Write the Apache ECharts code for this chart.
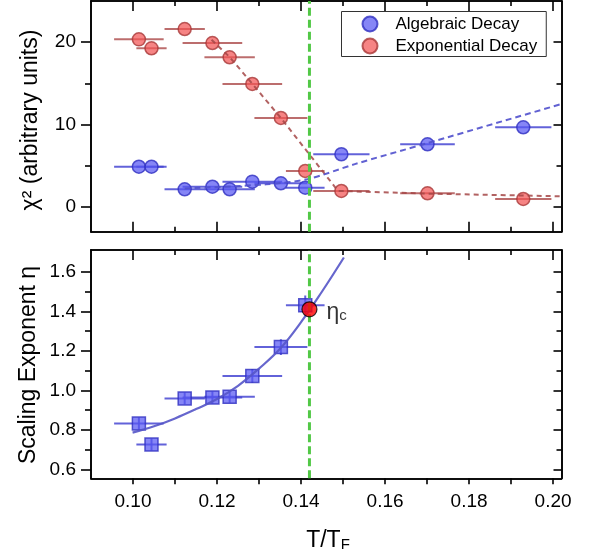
<!DOCTYPE html>
<html>
<head>
<meta charset="utf-8">
<script src="https://cdn.jsdelivr.net/npm/echarts@6/dist/echarts.min.js"></script>
<style>
  html, body { margin: 0; padding: 0; background: #fff; }
  #chart { width: 594px; height: 556px; }
</style>
</head>
<body>
<div id="chart"></div>
<script>
// Reduced temperature T/T_F of each measurement and its half-width uncertainty
const temperature    = [0.1014, 0.1044, 0.1123, 0.1189, 0.1230, 0.1284, 0.1352, 0.1410, 0.1496, 0.1701, 0.1929];
const temperatureErr = [0.0059, 0.0036, 0.0048, 0.0071, 0.0060, 0.0071, 0.0063, 0.0046, 0.0067, 0.0065, 0.0067];

// Goodness of fit (chi^2) for the two decay models
const chi2Algebraic   = [4.89, 4.89, 2.15, 2.46, 2.15, 3.07, 2.88, 2.34, 6.40, 7.61, 9.67];
const chi2Exponential = [20.35, 19.26, 21.6, 19.9, 18.17, 14.93, 10.8, 4.37, 1.94, 1.66, 0.97];

// Guide lines through the chi^2 points
const algebraicGuideT    = [0.1123, 0.1317, 0.1417, 0.1528, 0.1701, 0.2020];
const algebraicGuideChi2 = [2.25, 2.75, 3.4, 5.2, 7.75, 12.5];
const exponentialGuideT    = [0.1187, 0.1230, 0.1284, 0.1352, 0.1488, 0.1701, 0.2020];
const exponentialGuideChi2 = [20.3, 18.2, 14.95, 10.8, 1.95, 1.62, 1.3];

// Scaling exponent eta (algebraic regime only)
const etaValues = [0.832, 0.726, 0.959, 0.964, 0.967, 1.073, 1.219, 1.430];
const etaErr    = [0.03, 0.03, 0.03, 0.03, 0.03, 0.035, 0.04, 0.05];

// Smooth trend of eta versus temperature
const etaTrendT      = [0.0999, 0.105, 0.110, 0.115, 0.120, 0.125, 0.130, 0.135, 0.140, 0.145, 0.1502];
const etaTrendValues = [0.786, 0.818, 0.858, 0.905, 0.956, 1.023, 1.110, 1.210, 1.345, 1.500, 1.672];

// Crossover temperature and the exponent there
const criticalT = 0.142;
const criticalEta = 1.41;

// Axis ranges and tick positions
const tRange = [0.09, 0.202];
const tMajor = [0.10, 0.12, 0.14, 0.16, 0.18, 0.20];
const tMinor = [0.11, 0.13, 0.15, 0.17, 0.19];
const chiRange = [-3, 25];
const chiMajor = [0, 10, 20];
const chiMinor = [5, 15];
const etaRange = [0.555, 1.71];
const etaMajor = [0.6, 0.8, 1.0, 1.2, 1.4, 1.6];
const etaMinor = [0.7, 0.9, 1.1, 1.3, 1.5];

const FONT = "'Liberation Sans', Arial, Helvetica, sans-serif";
const BLUE_FILL = 'rgba(88, 88, 242, 0.9)';
const BLUE_EDGE = '#3030c0';
const BLUE_BAR = 'rgba(70, 70, 210, 0.85)';
const RED_FILL = 'rgba(242, 84, 84, 0.9)';
const RED_EDGE = '#a83838';
const RED_BAR = 'rgba(176, 84, 84, 0.85)';
const GREEN = '#52c846';

function makeAxis(gridIndex, position, range, ticks, length, inside, labelFmt, margin) {
  return {
    type: 'value',
    gridIndex: gridIndex,
    position: position,
    min: range[0],
    max: range[1],
    axisLine: { show: true, onZero: false, lineStyle: { color: '#000', width: 1.6 } },
    axisTick: { show: true, inside: inside, length: length, customValues: ticks,
                lineStyle: { color: '#000', width: 1.6 } },
    axisLabel: labelFmt
      ? { show: true, customValues: ticks, formatter: labelFmt, fontSize: 19,
          fontFamily: FONT, color: '#000', margin: margin }
      : { show: false },
    splitLine: { show: false },
    minorTick: { show: false },
    axisPointer: { show: false }
  };
}

const fmt2 = v => Number(v).toFixed(2);
const fmt1 = v => Number(v).toFixed(1);
const fmt0 = v => String(Math.round(v));

const xAxes = [
  // upper panel
  makeAxis(0, 'bottom', tRange, tMajor, 10, true),
  makeAxis(0, 'bottom', tRange, tMinor, 5, true),
  makeAxis(0, 'top', tRange, tMajor, 10, true),
  makeAxis(0, 'top', tRange, tMinor, 5, true),
  // lower panel
  makeAxis(1, 'bottom', tRange, tMajor, 6, false, fmt2, 14),
  makeAxis(1, 'bottom', tRange, tMinor, 6, false),
  makeAxis(1, 'top', tRange, tMajor, 10, true),
  makeAxis(1, 'top', tRange, tMinor, 5, true)
];
const yAxes = [
  makeAxis(0, 'left', chiRange, chiMajor, 10, false, fmt0, 15),
  makeAxis(0, 'left', chiRange, chiMinor, 6, false),
  makeAxis(0, 'right', chiRange, chiMajor, 8, true),
  makeAxis(0, 'right', chiRange, chiMinor, 5, true),
  makeAxis(1, 'left', etaRange, etaMajor, 10, false, fmt1, 15),
  makeAxis(1, 'left', etaRange, etaMinor, 6, false),
  makeAxis(1, 'right', etaRange, etaMajor, 8, true),
  makeAxis(1, 'right', etaRange, etaMinor, 5, true)
];

// Horizontal (and optional vertical) error bars
function errorBars(xIdx, yIdx, values, xErr, yErr, color) {
  return {
    type: 'custom',
    xAxisIndex: xIdx,
    yAxisIndex: yIdx,
    silent: true,
    z: 2,
    clip: true,
    data: values.map((v, i) => [temperature[i], v, xErr[i], yErr ? yErr[i] : 0]),
    encode: { x: 0, y: 1 },
    renderItem: function (params, api) {
      const x = api.value(0), y = api.value(1), dx = api.value(2), dy = api.value(3);
      const a = api.coord([x - dx, y]);
      const b = api.coord([x + dx, y]);
      const children = [{
        type: 'line',
        shape: { x1: a[0], y1: a[1], x2: b[0], y2: b[1] },
        style: { stroke: color, lineWidth: 2 }
      }];
      if (dy > 0) {
        const c = api.coord([x, y - dy]);
        const d = api.coord([x, y + dy]);
        children.push({
          type: 'line',
          shape: { x1: c[0], y1: c[1], x2: d[0], y2: d[1] },
          style: { stroke: color, lineWidth: 2 }
        });
      }
      return { type: 'group', children: children };
    }
  };
}

function zip(xs, ys) { return xs.map((x, i) => [x, ys[i]]); }

const series = [
  errorBars(0, 0, chi2Exponential, temperatureErr, null, RED_BAR),
  errorBars(0, 0, chi2Algebraic, temperatureErr, null, BLUE_BAR),
  {
    name: 'Algebraic Decay', type: 'scatter', xAxisIndex: 0, yAxisIndex: 0, z: 4,
    symbol: 'circle', symbolSize: 13,
    itemStyle: { color: BLUE_FILL, borderColor: BLUE_EDGE, borderWidth: 1.5 },
    data: zip(temperature, chi2Algebraic)
  },
  {
    name: 'Exponential Decay', type: 'scatter', xAxisIndex: 0, yAxisIndex: 0, z: 4,
    symbol: 'circle', symbolSize: 13,
    itemStyle: { color: RED_FILL, borderColor: RED_EDGE, borderWidth: 1.5 },
    data: zip(temperature, chi2Exponential)
  },
  {
    type: 'line', xAxisIndex: 0, yAxisIndex: 0, z: 5, silent: true,
    symbol: 'none', smooth: false,
    lineStyle: { color: 'rgba(165, 70, 70, 0.85)', width: 2, type: [5, 4] },
    data: zip(exponentialGuideT, exponentialGuideChi2)
  },
  {
    type: 'line', xAxisIndex: 0, yAxisIndex: 0, z: 5, silent: true,
    symbol: 'none', smooth: 0.3,
    lineStyle: { color: 'rgba(80, 80, 205, 0.9)', width: 2, type: [6, 4] },
    data: zip(algebraicGuideT, algebraicGuideChi2)
  },
  {
    type: 'line', xAxisIndex: 0, yAxisIndex: 0, z: 6, silent: true,
    symbol: 'none',
    lineStyle: { color: GREEN, width: 3, type: [8, 4] },
    data: [[criticalT, chiRange[0]], [criticalT, chiRange[1]]]
  },

  // lower panel
  errorBars(4, 4, etaValues, temperatureErr, etaErr, BLUE_BAR),
  {
    type: 'scatter', xAxisIndex: 4, yAxisIndex: 4, z: 4,
    symbol: 'rect', symbolSize: 13,
    itemStyle: { color: BLUE_FILL, borderColor: BLUE_EDGE, borderWidth: 1.5 },
    data: zip(temperature.slice(0, etaValues.length), etaValues)
  },
  {
    type: 'line', xAxisIndex: 4, yAxisIndex: 4, z: 5, silent: true,
    symbol: 'none', smooth: 0.4,
    lineStyle: { color: 'rgba(85, 85, 200, 0.9)', width: 2.2 },
    data: zip(etaTrendT, etaTrendValues)
  },
  {
    type: 'line', xAxisIndex: 4, yAxisIndex: 4, z: 6, silent: true,
    symbol: 'none',
    lineStyle: { color: GREEN, width: 3, type: [8, 4] },
    data: [[criticalT, etaRange[0]], [criticalT, etaRange[1]]]
  },
  {
    type: 'scatter', xAxisIndex: 4, yAxisIndex: 4, z: 7,
    symbol: 'circle', symbolSize: 15,
    itemStyle: { color: '#ff0000', borderColor: '#000', borderWidth: 1.2 },
    label: {
      show: true, position: 'right', distance: 9,
      formatter: '{e|η}{s|c}',
      rich: {
        e: { fontSize: 23, fontFamily: FONT, color: '#000', verticalAlign: 'bottom' },
        s: { fontSize: 15, fontFamily: FONT, color: '#000', verticalAlign: 'bottom', padding: [14, 0, 0, 0] }
      }
    },
    data: [[criticalT, criticalEta]]
  }
];

const chart = echarts.init(document.getElementById('chart'), null, { renderer: 'canvas' });
chart.setOption({
  animation: false,
  backgroundColor: '#fff',
  grid: [
    { left: 91, right: 32.5, top: 1, height: 230.7, containLabel: false },
    { left: 91, right: 32.5, top: 250, height: 228.3, containLabel: false }
  ],
  xAxis: xAxes,
  yAxis: yAxes,
  legend: {
    orient: 'vertical',
    left: 341.5,
    top: 11.5,
    padding: [4, 9, 2, 20],
    itemGap: 5,
    itemWidth: 15,
    itemHeight: 15,
    borderColor: '#333',
    borderWidth: 1,
    backgroundColor: '#fff',
    textStyle: { fontSize: 17, fontFamily: FONT, color: '#000', padding: [0, 0, 0, 13] },
    data: ['Algebraic Decay', 'Exponential Decay']
  },
  graphic: [
    {
      type: 'text', x: 31, y: 120, rotation: Math.PI / 2,
      style: { text: 'χ² (arbitrary units)', fontSize: 23, fontFamily: FONT, fill: '#000',
               align: 'center', verticalAlign: 'middle' }
    },
    {
      type: 'text', x: 29, y: 365, rotation: Math.PI / 2,
      style: { text: 'Scaling Exponent η', fontSize: 23, fontFamily: FONT, fill: '#000',
               align: 'center', verticalAlign: 'middle' }
    },
    {
      type: 'text', x: 328, y: 538,
      style: {
        text: '{m|T/T}{s|F}', fill: '#000', align: 'center', verticalAlign: 'middle',
        rich: {
          m: { fontSize: 23, fontFamily: FONT, verticalAlign: 'bottom' },
          s: { fontSize: 15, fontFamily: FONT, verticalAlign: 'bottom', padding: [14, 0, 0, 0] }
        }
      }
    }
  ],
  series: series
});
</script>
</body>
</html>
